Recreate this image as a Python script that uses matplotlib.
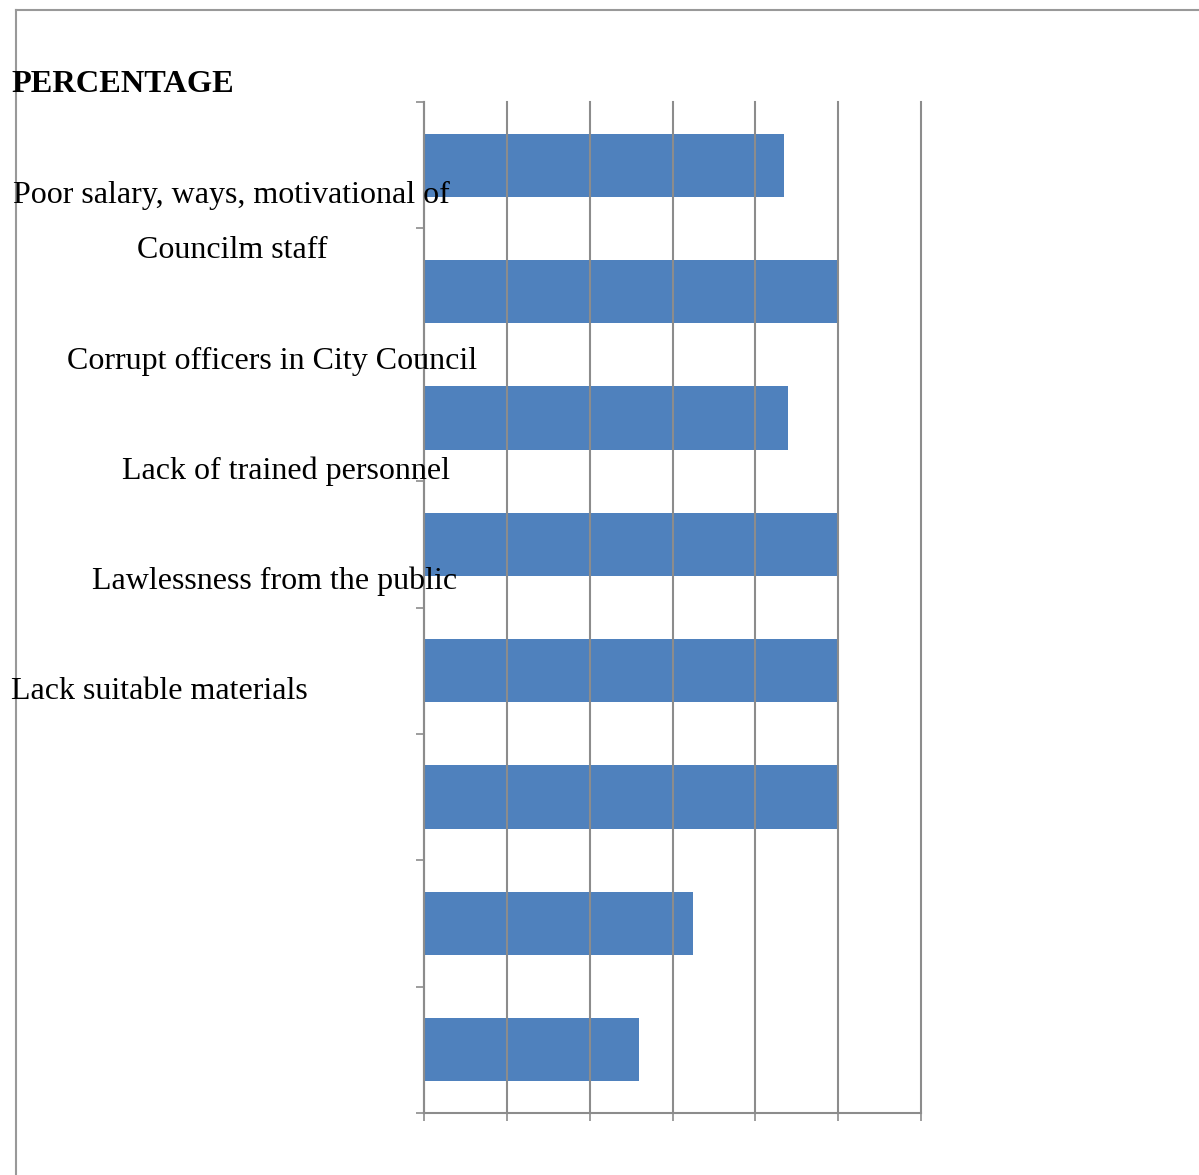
import matplotlib.pyplot as plt
from matplotlib.lines import Line2D
import numpy as np

# percentage per response, top bar first
values = [87, 100, 88, 100, 100, 100, 65, 52]
x_ticks = [0, 20, 40, 60, 80, 100, 120]

labels = [
    "Poor salary, ways, motivational of",
    "Councilm staff",
    "Corrupt officers in City Council",
    "Lack of trained personnel",
    "Lawlessness from the public",
    "Lack suitable materials",
]

W, H = 1199, 1175
plt.rcParams['font.family'] = ['Liberation Serif', 'DejaVu Serif']

fig = plt.figure(figsize=(W / 100, H / 100), dpi=100)
ax = fig.add_axes([424 / W, (H - 1113) / H, (921 - 424) / W, (1113 - 102) / H])

grey = '#8c8c8c'
pos = np.arange(len(values))
ax.barh(pos, values, height=0.5, color='#4f81bd', zorder=1)

ax.set_xlim(0, 120)
ax.set_ylim(len(values) - 0.5, -0.5)
ax.set_xticks(x_ticks)
ax.set_xticklabels([])
ax.set_yticks(np.arange(-0.5, len(values)))
ax.set_yticklabels([])
ax.tick_params(axis='both', direction='out', length=6, width=1.2, color=grey)

ax.set_axisbelow(False)
ax.grid(axis='x', color=grey, lw=1.5)
for gl in ax.get_xgridlines():
    gl.set_clip_on(False)
for s in ['top', 'right']:
    ax.spines[s].set_visible(False)
for s in ['left', 'bottom']:
    ax.spines[s].set_color(grey)
    ax.spines[s].set_linewidth(1.5)

# outer frame (only top and left edges show)
fig.add_artist(Line2D([16 / W, 1], [1 - 10 / H, 1 - 10 / H], color='#999999', lw=1.5))
fig.add_artist(Line2D([16 / W, 16 / W], [0, 1 - 10 / H], color='#999999', lw=1.5))

def px(x, y):
    return x / W, 1 - y / H

fig.text(*px(11, 92), "PERCENTAGE", fontsize=23.3, fontweight='bold', va='baseline', ha='left')

# label placements: (x, baseline y, alignment)
label_pos = [(231, 203, 'center'), (232, 258, 'center'), (272, 369, 'center'),
             (286, 479, 'center'), (275, 589, 'center'), (11, 699, 'left')]
for text, (x, y, ha) in zip(labels, label_pos):
    fig.text(*px(x, y), text, fontsize=23, ha=ha, va='baseline')

fig.savefig('out.png', dpi=100)
